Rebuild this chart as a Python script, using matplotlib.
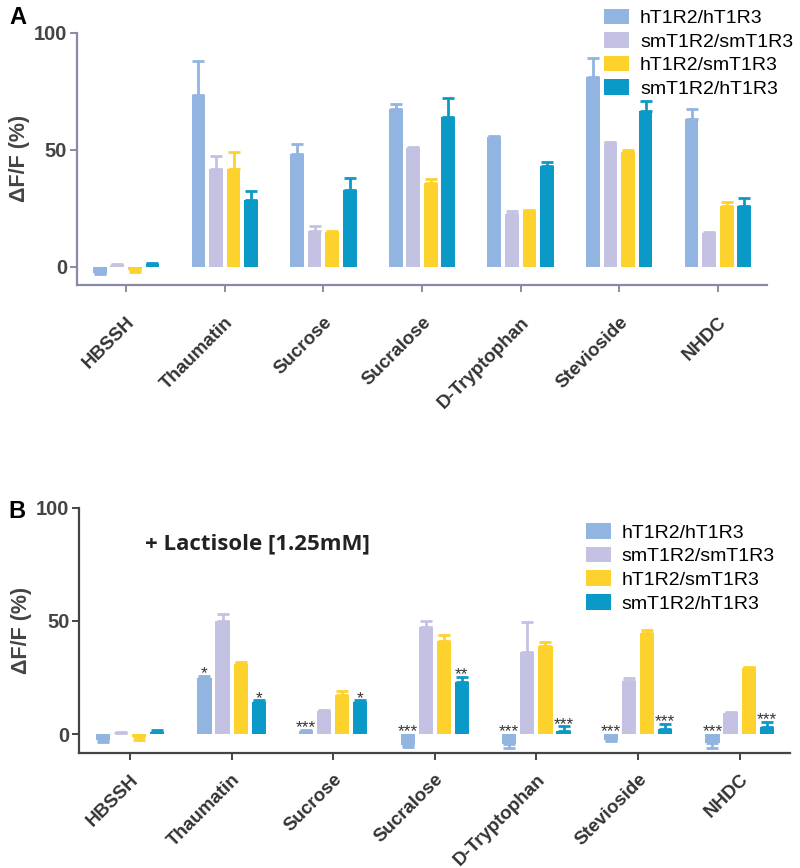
import numpy as np
import matplotlib
matplotlib.use('Agg')
from matplotlib import pyplot as plt

plt.rcParams['font.family'] = ['Liberation Sans', 'DejaVu Sans']

categories = ['HBSSH', 'Thaumatin', 'Sucrose', 'Sucralose', 'D-Tryptophan', 'Stevioside', 'NHDC']
receptors = ['hT1R2/hT1R3', 'smT1R2/smT1R3', 'hT1R2/smT1R3', 'smT1R2/hT1R3']
colors = ['#92b4e0', '#c4c2e2', '#fed22c', '#0b9ac7']

# panel A, mean and error per receptor
a_h = [-2.5, 73.5, 48.3, 67.5, 55.5, 81.1, 63.2]
a_h_err = [0.8, 14.5, 4.2, 2.2, 0.6, 8.2, 4.3]
a_sm = [0.7, 42.0, 15.4, 50.8, 22.6, 52.9, 14.5]
a_sm_err = [0.3, 5.4, 2.1, 0.6, 1.1, 0.4, 0.3]
a_hsm = [-1.5, 42.0, 15.0, 35.8, 24.0, 49.1, 25.8]
a_hsm_err = [0.6, 7.0, 0.3, 1.8, 0.4, 0.9, 1.8]
a_smh = [1.0, 28.6, 33.0, 64.1, 43.2, 66.7, 25.8]
a_smh_err = [0.7, 3.9, 5.0, 8.2, 1.6, 4.3, 3.8]

# panel B, + lactisole
b_h = [-2.5, 24.8, 1.3, -5.0, -4.5, -2.6, -4.0]
b_h_err = [1.2, 0.9, 0.6, 0.7, 1.7, 0.5, 2.2]
b_sm = [0.6, 50.0, 10.0, 47.4, 36.3, 23.4, 9.4]
b_sm_err = [0.4, 3.0, 0.5, 2.6, 13.3, 1.2, 0.2]
b_hsm = [-1.5, 31.0, 17.3, 41.1, 38.9, 44.6, 29.2]
b_hsm_err = [1.0, 1.0, 1.7, 2.7, 1.8, 1.4, 0.4]
b_smh = [1.0, 14.0, 14.2, 23.0, 1.3, 2.2, 3.1]
b_smh_err = [0.9, 1.0, 0.8, 2.2, 2.2, 2.2, 2.2]

b_h_sig = ['', '*', '***', '***', '***', '***', '***']
b_smh_sig = ['', '*', '*', '**', '***', '***', '***']


def draw_panel(ax, series, errs, spine_color, legend_anchor, xpad):
    x = np.arange(len(categories))
    for i in range(4):
        vals = np.array(series[i])
        err = np.array(errs[i])
        pos = x + (i - 1.5) * 0.178
        ax.bar(pos, vals, width=0.14, color=colors[i], label=receptors[i], zorder=2)
        lower = np.where(vals < 0, err, 0)
        upper = np.where(vals >= 0, err, 0)
        ax.errorbar(pos, vals, yerr=[lower, upper], fmt='none', ecolor=colors[i],
                    elinewidth=2, capsize=4, capthick=2, zorder=1)
    ax.set_xlim(-0.5, 6.5)
    ax.set_xticks(x)
    ax.set_xticklabels(categories, rotation=45, ha='right', rotation_mode='anchor',
                       fontsize=13.5, fontweight='bold', color='#333333')
    ax.set_yticks([0, 50, 100])
    ax.set_yticklabels(['0', '50', '100'], fontsize=14.5, fontweight='bold', color='#444444')
    ax.set_ylabel('ΔF/F (%)', fontsize=15.5, fontweight='bold', color='#444444', labelpad=3)
    for side in ['top', 'right']:
        ax.spines[side].set_visible(False)
    for side in ['left', 'bottom']:
        ax.spines[side].set_color(spine_color)
        ax.spines[side].set_linewidth(1.6)
    ax.tick_params(axis='both', color=spine_color, width=1.4, length=5)
    ax.tick_params(axis='x', pad=xpad)
    ax.tick_params(axis='y', pad=2)
    ax.legend(loc='upper left', bbox_to_anchor=legend_anchor, bbox_transform=ax.figure.transFigure,
              frameon=False, fontsize=14, handlelength=1.3, handleheight=0.85,
              handletextpad=0.55, labelspacing=0.26, borderpad=0, borderaxespad=0)


fig = plt.figure(figsize=(8, 8.68), dpi=100)

axA = fig.add_axes([0.096, 0.672, 0.863, 0.290])
draw_panel(axA, [a_h, a_sm, a_hsm, a_smh], [a_h_err, a_sm_err, a_hsm_err, a_smh_err],
           '#8c89a8', (0.755, 0.99), 16)
axA.set_ylim(-7.7, 100)

axB = fig.add_axes([0.099, 0.1325, 0.889, 0.2823])
draw_panel(axB, [b_h, b_sm, b_hsm, b_smh], [b_h_err, b_sm_err, b_hsm_err, b_smh_err],
           '#444444', (0.732, 0.397), 8)
axB.set_ylim(-8.4, 100)

# significance marks
xb = np.arange(len(categories))
for j in range(len(categories)):
    for vals, errs, sig, off in [(b_h, b_h_err, b_h_sig, 0), (b_smh, b_smh_err, b_smh_sig, 3)]:
        if sig[j] == '':
            continue
        top = max(vals[j] + errs[j], 0) if vals[j] >= 0 else 0
        axB.annotate(sig[j], (xb[j] + (off - 1.5) * 0.178, top), xytext=(0, -4),
                     textcoords='offset points', ha='center', va='bottom',
                     fontsize=12.5, color='#333333')

axB.text(0.093, 0.853, '+ Lactisole [1.25mM]', transform=axB.transAxes, ha='left', va='center',
         fontsize=16, fontweight='bold', color='#222222', family=['Open Sans', 'DejaVu Sans'])

fig.text(0.012, 0.98, 'A', fontsize=17, fontweight='bold', va='center')
fig.text(0.01, 0.411, 'B', fontsize=17, fontweight='bold', va='center')

fig.savefig('out.png', dpi=100)
